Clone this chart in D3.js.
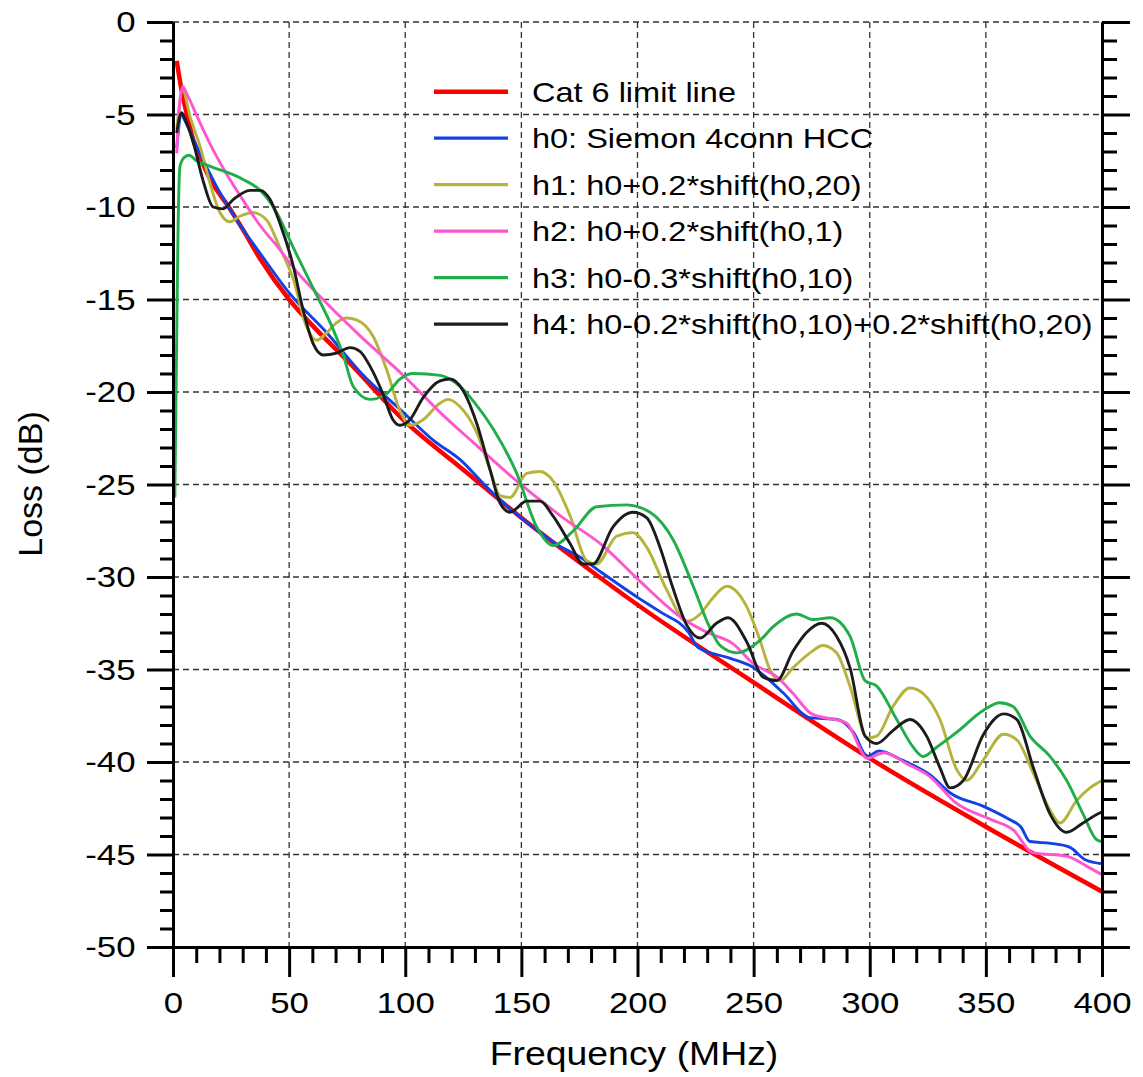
<!DOCTYPE html>
<html><head><meta charset="utf-8">
<script src="https://cdn.jsdelivr.net/npm/d3@7"></script>
<style>body{margin:0;background:#fff}svg{display:block}</style>
</head><body>
<svg id="chart" width="1143" height="1077"></svg>
<script>
// ---- data ----
const seriesNames = ["Cat 6 limit line","h0: Siemon 4conn HCC","h1: h0+0.2*shift(h0,20)","h2: h0+0.2*shift(h0,1)","h3: h0-0.3*shift(h0,10)","h4: h0-0.2*shift(h0,10)+0.2*shift(h0,20)"];
const xTicks = [0,50,100,150,200,250,300,350,400];
const yTicks = [-50,-45,-40,-35,-30,-25,-20,-15,-10,-5,0];

const cat6F = [1.6,4,6,8.8,11,16,24,30,37.5,50,60,75,100,125,150,175,200,250,300,350,400];
const cat6L = [-2.1,-3.9,-5.0,-6.4,-7.1,-8.5,-10.0,-11.2,-12.8,-15.0,-16.4,-18.3,-21.6,-24.2,-26.8,-29.2,-31.5,-35.7,-39.8,-43.5,-47.0];

const h0F = [1.6,3.7,5,8.7,11.6,18.8,27.4,37.5,50.4,66.2,80.5,100,112,124,134,145,155,166,175,185,200,210,222,226,240,250,257,263,274,286,293,299,304,314,326,335,349,360,365,369,378,386,393,400];
const h0L = [-6.8,-5.0,-5.3,-6.3,-7.1,-8.9,-10.7,-12.5,-14.7,-16.8,-18.9,-21.2,-22.6,-23.7,-25.0,-26.3,-27.3,-28.3,-28.9,-29.8,-31.1,-31.9,-33.0,-33.8,-34.4,-34.9,-35.6,-36.3,-37.6,-37.7,-38.4,-39.7,-39.4,-39.9,-40.7,-41.7,-42.4,-43.1,-43.5,-44.3,-44.4,-44.6,-45.3,-45.5];

const h1F = [1.6,4.2,7.3,11.6,15.9,20.2,24.5,28.8,34.4,40.3,46,51.8,57.6,61.9,66.2,70,74.8,79,86.2,92,97.7,102,107.7,115,118.5,123.6,130.8,136.5,140.8,145.1,152.3,158,163.6,171,178,182.4,191,198,204,212.6,221.2,227,232,238.4,247,252.7,257,261.4,267,274.3,279.9,285.7,291.5,299,303,310,317.3,323,330.2,337.4,341.7,348.8,357.6,363.3,370.4,377.6,381.9,389,394.8,400];
const h1L = [-5.8,-3.7,-5.1,-6.7,-8.7,-10.3,-10.8,-10.5,-10.3,-10.7,-12.2,-13.9,-16.5,-17.2,-16.8,-16.3,-16.0,-16.1,-17.0,-18.8,-21.0,-21.8,-21.5,-20.6,-20.4,-20.8,-22.2,-24.2,-25.6,-25.7,-24.4,-24.3,-24.8,-26.7,-29.1,-29.3,-27.8,-27.6,-28.4,-30.7,-32.4,-32.0,-31.2,-30.5,-31.6,-33.4,-35.0,-35.6,-34.9,-34.1,-33.7,-34.1,-35.9,-38.7,-38.6,-37.0,-36.0,-36.3,-37.7,-40.4,-41.0,-39.9,-38.5,-38.8,-40.6,-42.6,-43.3,-42.1,-41.4,-41.0];

const h2F = [1.6,2.8,4.2,6,10,16,23,30,37.5,46,52,63,80,100,115,129,146,168,185,200,220,230,241,250,260,267,275,290,299,306,316,326,337,352,362,370,385,393,400];
const h2L = [-7.1,-4.5,-3.5,-3.9,-5.0,-6.6,-8.2,-9.6,-11.0,-12.3,-13.3,-14.8,-16.9,-19.2,-21.1,-22.7,-24.6,-26.8,-28.3,-30.1,-32.3,-33.0,-33.6,-34.7,-35.4,-36.3,-37.4,-37.9,-39.8,-39.5,-40.1,-40.8,-42.2,-43.1,-43.7,-44.9,-45.1,-45.6,-46.1];

const h3F = [0.8,1.5,2.2,3,5,7,10,16,30,37.5,44.6,51.8,60.4,68.9,73.3,77.6,84.8,92,97.7,103.5,115,123.6,130,137.9,148,156.6,163.7,172.4,182.4,195.3,205.4,215.4,224,231,235.5,242.7,253,258.3,268.5,275.6,283,291.5,298,303,311.6,318.7,323,328.8,337.4,349,356,361.7,369,377.6,384.8,391.8,397.7,400];
const h3L = [-25.7,-18,-11,-7.8,-7.3,-7.2,-7.5,-7.8,-8.5,-9.1,-10.3,-12.2,-14.4,-16.6,-18.0,-19.7,-20.4,-20.1,-19.3,-19.0,-19.1,-19.7,-20.6,-22.0,-24.4,-27.3,-28.3,-27.5,-26.2,-26.1,-26.5,-28.0,-30.5,-32.7,-33.7,-34.1,-33.4,-32.7,-32.0,-32.3,-32.2,-33.2,-35.6,-35.9,-37.7,-39.2,-39.7,-39.2,-38.4,-37.2,-36.8,-37.0,-38.6,-39.7,-41.0,-42.8,-44.2,-44.3];

const h4F = [1.6,3.7,5,8.7,13,17.3,21.6,25.9,33.2,37.5,41.8,46.1,51.8,56.1,60.4,64.7,70.4,76.2,80.5,84.8,90.4,94.7,97.7,102,107.7,115,119.3,124.8,130.8,136.5,140.8,145.1,152.3,158,163.6,171,176.5,180.8,189.4,198,204,209.7,215,221.2,227,234,239,247,254,260,267,272.8,279.3,285.7,291.5,298,303,310,317.3,324.5,330.2,334.6,340.3,349,357.6,363.3,370.4,377.6,384.8,391.8,398.3,400];
const h4L = [-6.0,-4.9,-5.2,-6.5,-8.6,-10.0,-10.1,-9.6,-9.1,-9.1,-9.6,-10.9,-13.2,-15.6,-17.4,-18.0,-17.9,-17.6,-17.8,-18.6,-20.1,-21.5,-21.8,-21.5,-20.3,-19.4,-19.3,-19.9,-21.7,-24.2,-26.0,-26.5,-25.9,-25.9,-26.7,-28.2,-29.3,-29.3,-27.3,-26.5,-26.8,-28.4,-30.5,-32.6,-33.3,-32.5,-32.2,-33.5,-35.4,-35.6,-34.0,-33.0,-32.5,-33.2,-34.9,-38.6,-39.0,-38.3,-37.7,-38.6,-40.3,-41.4,-41.0,-38.5,-37.4,-37.7,-40.3,-42.8,-43.8,-43.3,-42.8,-42.7];

const seriesColors = ["#ff0000","#1142e6","#b5b33c","#ff55cf","#1fae4a","#1c1c1c"];

// ---- chart ----
const svg = d3.select("#chart");
const L = 173, R = 1102, T = 22, B = 947;
const x = d3.scaleLinear().domain([0,400]).range([L,R]);
const y = d3.scaleLinear().domain([-50,0]).range([B,T]);
const FONT = "'Liberation Sans', Arial, Helvetica, sans-serif";
const SX = 1.16;
const plain = d => String(d);

// grid
const grid = svg.append("g").attr("stroke","#333").attr("stroke-width",1.3).attr("stroke-dasharray","6,4");
grid.selectAll("line.v").data(xTicks.filter(d=>d>0&&d<400)).join("line")
  .attr("x1",d=>x(d)).attr("x2",d=>x(d)).attr("y1",T).attr("y2",B);
grid.selectAll("line.h").data(yTicks.filter(d=>d>-50)).join("line")
  .attr("x1",L).attr("x2",R).attr("y1",d=>y(d)).attr("y2",d=>y(d));

// series
const series = [[cat6F,cat6L],[h0F,h0L],[h1F,h1L],[h2F,h2L],[h3F,h3L],[h4F,h4L]];
const line = d3.line().x(d=>x(d[0])).y(d=>y(d[1])).curve(d3.curveMonotoneX);
series.forEach((s,i)=>{
  const pts = s[0].map((f,j)=>[f,s[1][j]]);
  svg.append("path").datum(pts).attr("d",line).attr("fill","none")
    .attr("stroke",seriesColors[i]).attr("stroke-width", i===0?4.5:2.9)
    .attr("stroke-linejoin","round");
});

// axes
const minorX = d3.range(0,401,10).filter(d=>d%50!==0);
const minorY = d3.range(-50,1,1).filter(d=>d%5!==0);
function styleAxis(g){
  g.select(".domain").attr("stroke","#000").attr("stroke-width",3);
  g.selectAll(".tick line").attr("stroke","#000").attr("stroke-width",3);
}
// bottom
let gb = svg.append("g").attr("transform",`translate(0,${B})`)
  .call(d3.axisBottom(x).tickValues(xTicks).tickFormat(plain).tickSize(30).tickSizeOuter(0).tickPadding(15));
styleAxis(gb);
gb.selectAll("text").attr("font-family",FONT).attr("font-size",30).attr("fill","#000")
  .attr("transform",`scale(${SX},1)`);
let gbm = svg.append("g").attr("transform",`translate(0,${B})`)
  .call(d3.axisBottom(x).tickValues(minorX).tickSize(16).tickSizeOuter(0).tickFormat(""));
styleAxis(gbm);
// left
let gl = svg.append("g").attr("transform",`translate(${L},0)`)
  .call(d3.axisLeft(y).tickValues(yTicks).tickFormat(plain).tickSize(26).tickSizeOuter(0).tickPadding(11));
styleAxis(gl);
gl.selectAll("text").attr("font-family",FONT).attr("font-size",30).attr("fill","#000")
  .attr("x",-37.5/SX).attr("transform",`scale(${SX},1)`);
let glm = svg.append("g").attr("transform",`translate(${L},0)`)
  .call(d3.axisLeft(y).tickValues(minorY).tickSize(13).tickSizeOuter(0).tickFormat(""));
styleAxis(glm);
// right
let gr = svg.append("g").attr("transform",`translate(${R},0)`)
  .call(d3.axisRight(y).tickValues(yTicks).tickSize(28).tickSizeOuter(0).tickFormat(""));
styleAxis(gr);
let grm = svg.append("g").attr("transform",`translate(${R},0)`)
  .call(d3.axisRight(y).tickValues(minorY).tickSize(15).tickSizeOuter(0).tickFormat(""));
styleAxis(grm);

// axis titles
svg.append("text").attr("transform",`translate(634,1065) scale(1.15,1)`)
  .attr("text-anchor","middle").attr("font-family",FONT).attr("font-size",32.5)
  .text("Frequency (MHz)");
svg.append("text").attr("transform",`translate(42,484) rotate(-90)`)
  .attr("text-anchor","middle").attr("font-family",FONT).attr("font-size",34)
  .text("Loss (dB)");

// legend
const lg = svg.append("g");
seriesNames.forEach((name,i)=>{
  const yy = 91.7 + i*46.5;
  lg.append("line").attr("x1",434).attr("x2",508).attr("y1",yy).attr("y2",yy)
    .attr("stroke",seriesColors[i]).attr("stroke-width", i===0?4.5:3.2);
  lg.append("text").attr("transform",`translate(532,${yy+10}) scale(1.14,1)`)
    .attr("font-family",FONT).attr("font-size",28.5).attr("fill","#000").text(name);
});
</script>
</body></html>
